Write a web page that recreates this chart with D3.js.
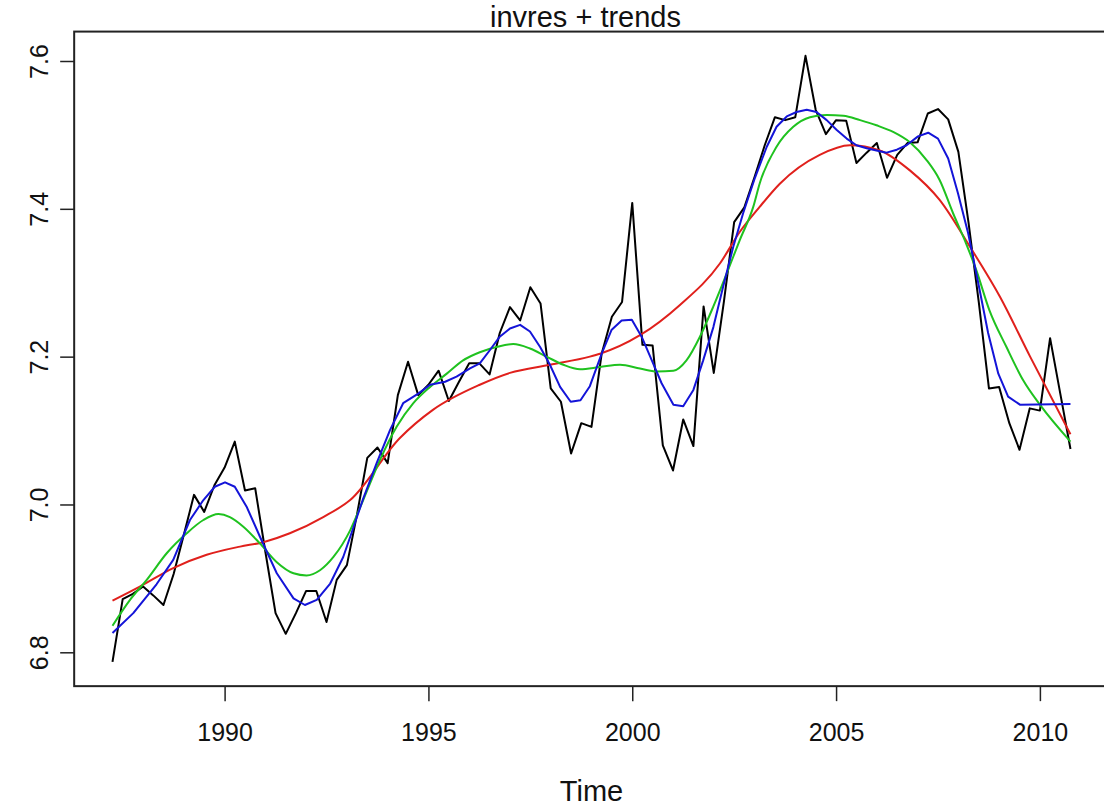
<!DOCTYPE html>
<html>
<head>
<meta charset="utf-8">
<script src="https://cdn.jsdelivr.net/npm/d3@7/dist/d3.min.js"></script>
<style>
  html, body { margin: 0; padding: 0; background: #fff; }
  svg { display: block; font-family: "Liberation Sans", Arial, sans-serif; }
</style>
</head>
<body>
<svg id="chart" width="1104" height="807"></svg>
<script>
// Quarterly series invres, starting 1987 Q2
const startYear = 1987.25;
const invres = [
  6.787, 6.872, 6.879, 6.889, 6.877, 6.864, 6.906, 6.959, 7.013, 6.990,
  7.026, 7.050, 7.085, 7.019, 7.022, 6.936, 6.853, 6.825, 6.853, 6.883,
  6.883, 6.841, 6.898, 6.918, 6.987, 7.063, 7.077, 7.056, 7.148, 7.193,
  7.148, 7.162, 7.181, 7.140, 7.166, 7.191, 7.191, 7.176, 7.232, 7.267,
  7.249, 7.294, 7.272, 7.157, 7.139, 7.069, 7.110, 7.105, 7.204, 7.254,
  7.274, 7.408, 7.216, 7.215, 7.080, 7.046, 7.115, 7.079, 7.268, 7.178,
  7.275, 7.382, 7.402, 7.443, 7.486, 7.524, 7.520, 7.524, 7.607, 7.534,
  7.501, 7.520, 7.519, 7.462, 7.476, 7.489, 7.442, 7.473, 7.489, 7.490,
  7.529, 7.535, 7.521, 7.477, 7.381, 7.274, 7.157, 7.159, 7.110, 7.074,
  7.130, 7.127, 7.225, 7.150, 7.075
];

// Blue trend (local smoother)
const blueYears = [
  1987.25, 1987.76, 1988.33, 1988.74, 1989.15, 1989.48, 1989.76, 1990.01, 1990.25, 1990.54,
  1990.87, 1991.28, 1991.69, 1991.97, 1992.26, 1992.59, 1992.91, 1993.08, 1993.40, 1993.73,
  1994.06, 1994.38, 1994.75, 1995.04, 1995.41, 1995.69, 1996.02, 1996.26, 1996.51, 1996.75,
  1997.00, 1997.25, 1997.49, 1997.74, 1997.98, 1998.23, 1998.49, 1998.73, 1998.96, 1999.25,
  1999.49, 1999.74, 1999.99, 2000.23, 2000.48, 2000.72, 2001.01, 2001.25, 2001.50, 2001.74,
  2001.99, 2002.23, 2002.48, 2002.72, 2003.01, 2003.30, 2003.54, 2003.79, 2004.03, 2004.28,
  2004.52, 2004.77, 2005.01, 2005.26, 2005.50, 2005.75, 2005.99, 2006.24, 2006.49, 2006.73,
  2007.01, 2007.26, 2007.50, 2007.75, 2007.99, 2008.24, 2008.49, 2008.73, 2008.98, 2009.22,
  2009.51, 2010.75
];
const blueValues = [
  6.826, 6.853, 6.892, 6.925, 6.979, 7.006, 7.024, 7.030, 7.024, 6.997,
  6.956, 6.907, 6.873, 6.864, 6.871, 6.893, 6.929, 6.956, 7.008, 7.056,
  7.101, 7.137, 7.150, 7.162, 7.166, 7.173, 7.184, 7.191, 7.209, 7.227,
  7.238, 7.243, 7.234, 7.213, 7.189, 7.159, 7.139, 7.141, 7.160, 7.204,
  7.236, 7.249, 7.250, 7.227, 7.195, 7.164, 7.135, 7.133, 7.155, 7.195,
  7.240, 7.295, 7.349, 7.394, 7.442, 7.484, 7.511, 7.525, 7.531, 7.534,
  7.531, 7.520, 7.507, 7.495, 7.486, 7.482, 7.479, 7.476, 7.480, 7.486,
  7.498, 7.503, 7.495, 7.468, 7.421, 7.367, 7.299, 7.232, 7.177, 7.146,
  7.135, 7.136
];

// Green trend (medium smoother)
const greenYears = [
  1987.25, 1987.68, 1988.09, 1988.58, 1989.07, 1989.48, 1989.85, 1990.13, 1990.46, 1990.87,
  1991.28, 1991.69, 1992.01, 1992.34, 1992.67, 1993.08, 1993.40, 1993.81, 1994.22, 1994.63,
  1995.04, 1995.45, 1995.85, 1996.26, 1996.67, 1997.08, 1997.49, 1997.90, 1998.31, 1998.72,
  1999.21, 1999.70, 2000.19, 2000.60, 2001.01, 2001.33, 2001.66, 2001.99, 2002.32, 2002.64,
  2002.97, 2003.13, 2003.54, 2003.95, 2004.36, 2004.77, 2005.18, 2005.59, 2005.99, 2006.40,
  2006.81, 2007.22, 2007.54, 2007.87, 2008.19, 2008.44, 2008.76, 2009.18, 2009.59, 2010.00,
  2010.75
];
const greenValues = [
  6.836, 6.871, 6.898, 6.934, 6.961, 6.979, 6.987, 6.983, 6.970, 6.947,
  6.922, 6.907, 6.904, 6.911, 6.929, 6.965, 7.006, 7.060, 7.105, 7.137,
  7.159, 7.177, 7.195, 7.206, 7.213, 7.217, 7.211, 7.200, 7.189, 7.183,
  7.186, 7.189, 7.184, 7.180, 7.181, 7.195, 7.227, 7.268, 7.313, 7.358,
  7.403, 7.435, 7.484, 7.511, 7.524, 7.527, 7.526, 7.520, 7.513, 7.504,
  7.490, 7.466, 7.439, 7.394, 7.353, 7.317, 7.263, 7.213, 7.168, 7.135,
  7.085
];

// Red trend (long-run smoother)
const redYears = [
  1987.25, 1987.92, 1988.74, 1989.56, 1990.38, 1990.95, 1991.60, 1992.42, 1993.08,
  1994.30, 1995.11, 1996.26, 1997.00, 1997.98, 1998.96, 1999.21, 2000.19, 2001.17, 2002.15,
  2002.64, 2003.13, 2003.62, 2004.60, 2005.34, 2006.07, 2006.81, 2007.54, 2008.28, 2009.02,
  2009.76, 2010.75
];
const redValues = [
  6.870, 6.889, 6.914, 6.932, 6.943, 6.949, 6.961, 6.983, 7.006,
  7.090, 7.128, 7.162, 7.178, 7.189, 7.200, 7.204, 7.229, 7.270, 7.326,
  7.369, 7.403, 7.434, 7.473, 7.486, 7.479, 7.452, 7.412, 7.349, 7.281,
  7.200, 7.095
];

const xTicks = [1990, 1995, 2000, 2005, 2010];
const yTicks = [6.8, 7.0, 7.2, 7.4, 7.6];
const yTickLabels = ["6.8", "7.0", "7.2", "7.4", "7.6"];

(function draw() {
  const svg = d3.select("#chart");
  const font = "Liberation Sans, Arial, sans-serif";

  const x = d3.scaleLinear().domain([1990, 2010]).range([224.6, 1039.9]);
  const y = d3.scaleLinear().domain([6.8, 7.6]).range([652.3, 61]);

  // plot region: data range extended by 4% on each side
  const xr = [startYear, startYear + (invres.length - 1) / 4];
  const yr = d3.extent(invres);
  const xPad = (xr[1] - xr[0]) * 0.04, yPad = (yr[1] - yr[0]) * 0.04;
  const pLeft = x(xr[0] - xPad), pRight = x(xr[1] + xPad);
  const pTop = y(yr[1] + yPad), pBottom = y(yr[0] - yPad);

  const seriesBlack = invres.map((v, i) => [startYear + i / 4, v]);
  const seriesBlue = blueYears.map((t, i) => [t, blueValues[i]]);
  const seriesGreen = greenYears.map((t, i) => [t, greenValues[i]]);
  const seriesRed = redYears.map((t, i) => [t, redValues[i]]);

  const straight = d3.line().x(d => x(d[0])).y(d => y(d[1]));
  const smooth = d3.line().x(d => x(d[0])).y(d => y(d[1])).curve(d3.curveMonotoneX);

  const g = svg.append("g");

  g.append("path").datum(seriesBlack)
    .attr("d", straight)
    .attr("fill", "none").attr("stroke", "#000").attr("stroke-width", 2)
    .attr("stroke-linejoin", "round");

  g.append("path").datum(seriesRed)
    .attr("d", smooth)
    .attr("fill", "none").attr("stroke", "#e0201c").attr("stroke-width", 2);

  g.append("path").datum(seriesGreen)
    .attr("d", smooth)
    .attr("fill", "none").attr("stroke", "#1fc21f").attr("stroke-width", 2);

  g.append("path").datum(seriesBlue)
    .attr("d", straight)
    .attr("fill", "none").attr("stroke", "#1414d8").attr("stroke-width", 2)
    .attr("stroke-linejoin", "round");

  // frame
  svg.append("rect")
    .attr("x", pLeft).attr("y", pTop)
    .attr("width", pRight - pLeft).attr("height", pBottom - pTop)
    .attr("fill", "none").attr("stroke", "#222").attr("stroke-width", 2);

  // x axis
  const xAxis = d3.axisBottom(x).tickValues(xTicks).tickSize(15).tickPadding(22)
    .tickFormat(d3.format("d"));
  const gx = svg.append("g").attr("transform", `translate(0,${pBottom})`).call(xAxis);
  gx.select(".domain").remove();
  gx.selectAll(".tick line").attr("stroke", "#222").attr("stroke-width", 1.5);
  gx.selectAll(".tick text").attr("font-size", 25).attr("fill", "#111")
    .attr("font-family", font);

  // y axis
  const yAxis = d3.axisLeft(y).tickValues(yTicks).tickSize(14)
    .tickFormat((d, i) => yTickLabels[i]);
  const gy = svg.append("g").attr("transform", `translate(${pLeft},0)`).call(yAxis);
  gy.select(".domain").remove();
  gy.selectAll(".tick line").attr("stroke", "#222").attr("stroke-width", 1.5);
  gy.selectAll(".tick text")
    .attr("font-size", 25).attr("fill", "#111")
    .attr("font-family", font)
    .attr("text-anchor", "middle")
    .attr("x", null).attr("dy", null)
    .attr("transform", "translate(-26,0) rotate(-90)");

  // title and axis label
  svg.append("text")
    .attr("x", (pLeft + pRight) / 2 - 6).attr("y", 27)
    .attr("text-anchor", "middle").attr("font-size", 29).attr("fill", "#111")
    .attr("font-family", font)
    .text("invres + trends");

  svg.append("text")
    .attr("x", (pLeft + pRight) / 2).attr("y", 801)
    .attr("text-anchor", "middle").attr("font-size", 29).attr("fill", "#111")
    .attr("font-family", font)
    .text("Time");
})();
</script>
</body>
</html>
